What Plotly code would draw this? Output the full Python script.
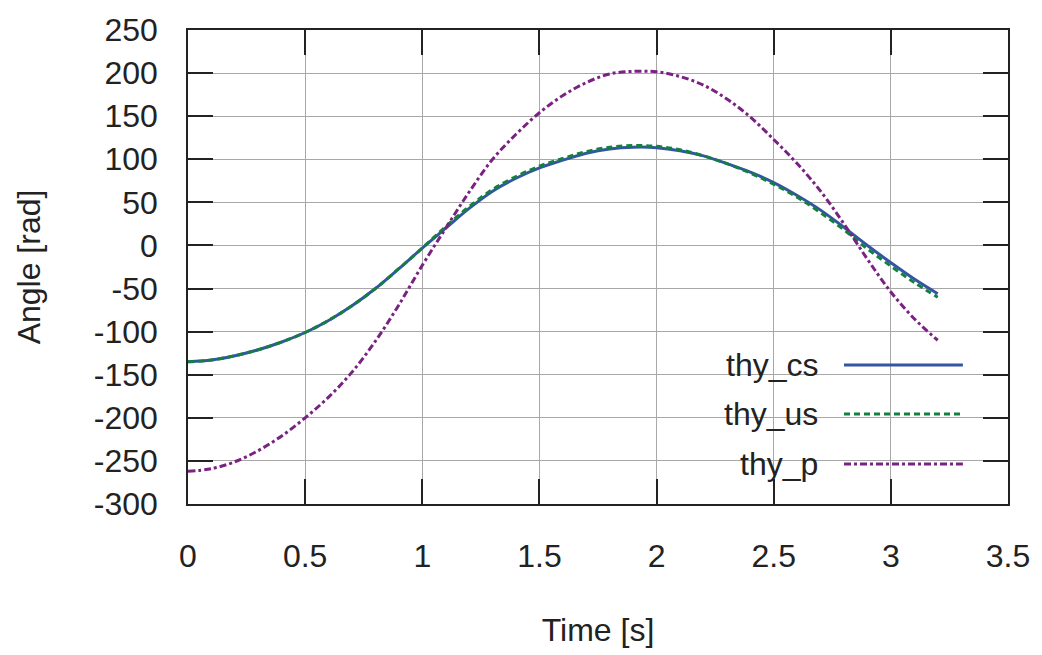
import plotly.graph_objects as go

# ---- data ----
time_s = [0.0, 0.1, 0.2, 0.3, 0.4, 0.5, 0.6, 0.7, 0.8, 0.9, 1.0, 1.1, 1.2, 1.3, 1.4, 1.5,
          1.6, 1.7, 1.8, 1.9, 2.0, 2.1, 2.2, 2.3, 2.4, 2.5, 2.6, 2.7, 2.8, 2.9, 3.0, 3.1, 3.2]

thy_cs = [-135, -133, -128, -121, -112, -101, -87, -70, -50, -27, -3, 20, 43, 63, 78, 90,
          99, 107, 112, 114, 113.5, 110, 104, 95, 85, 73, 58, 41, 21, 0, -20, -39, -56]

thy_us = [-135, -133, -128, -121, -112, -101, -87, -70, -50, -27, -3, 22, 45, 65, 80, 92,
          101, 109, 114, 116, 115, 111, 104, 95, 84, 71, 56, 38, 18, -4, -24, -43, -60]

thy_p = [-262, -259, -251, -238, -221, -200, -176, -147, -111, -69, -23, 20, 62, 100, 129, 154,
         174, 189, 199, 202, 201.5, 196, 186, 170, 149, 123, 95, 63, 25, -16, -54, -85, -110]

x_tick_vals = [0, 0.5, 1, 1.5, 2, 2.5, 3, 3.5]
x_tick_text = ["0", "0.5", "1", "1.5", "2", "2.5", "3", "3.5"]
y_tick_vals = [250, 200, 150, 100, 50, 0, -50, -100, -150, -200, -250, -300]
y_tick_text = ["250", "200", "150", "100", "50", "0", "-50", "-100", "-150", "-200", "-250", "-300"]

series_names = ["thy_cs", "thy_us", "thy_p"]
series_colors = ["#3454a4", "#13803f", "#7a2282"]
series_dash = ["solid", "6px,4px", "7px,3px,3px,3px"]
series_data = [thy_cs, thy_us, thy_p]

FONT = "Liberation Sans, Arial, sans-serif"
FS = 32

fig = go.Figure()
for name, col, dash, vals in zip(series_names, series_colors, series_dash, series_data):
    fig.add_trace(go.Scatter(
        x=time_s, y=vals, mode="lines", name=name,
        line=dict(color=col, width=3, dash=dash, shape="spline", smoothing=1.0),
        showlegend=False,
    ))

# legend background (covers grid lines, below traces)
fig.add_shape(type="rect", xref="paper", yref="paper", x0=0.612, x1=1.0, y0=0.0, y1=0.345,
              fillcolor="white", line=dict(width=0), layer="between")

legend_y = [0.293, 0.190, 0.0845]
for name, col, dash, ly in zip(series_names, series_colors, series_dash, legend_y):
    fig.add_shape(type="line", xref="paper", yref="paper", x0=0.80, x1=0.945, y0=ly, y1=ly,
                  line=dict(color=col, width=3, dash=dash), layer="above")
    fig.add_annotation(text=name, xref="paper", yref="paper", x=0.771, y=ly,
                       xanchor="right", yanchor="middle", showarrow=False,
                       font=dict(family=FONT, size=FS, color="#222222"))

axis_common = dict(
    showgrid=True, gridcolor="#a8a8a8", gridwidth=1,
    showline=True, linecolor="#222222", linewidth=1.5, mirror="ticks",
    ticks="inside", ticklen=25, tickwidth=1.5, tickcolor="#222222",
    zeroline=False,
    tickfont=dict(family=FONT, size=FS, color="#222222"),
    title_font=dict(family=FONT, size=FS, color="#222222"),
)

fig.update_xaxes(range=[0, 3.5], tickmode="array", tickvals=x_tick_vals, ticktext=x_tick_text,
                 title_text="Time [s]", title_standoff=45, ticklabelstandoff=23, **axis_common)
fig.update_yaxes(range=[-300, 250], tickmode="array", tickvals=y_tick_vals, ticktext=y_tick_text,
                 title_text="Angle [rad]", title_standoff=44, ticklabelstandoff=22, **axis_common)

fig.update_layout(
    width=1042, height=655,
    margin=dict(l=188, r=34, t=19, b=151),
    paper_bgcolor="white", plot_bgcolor="white",
    font=dict(family=FONT, size=FS, color="#222222"),
)

fig.write_html("out.html")
